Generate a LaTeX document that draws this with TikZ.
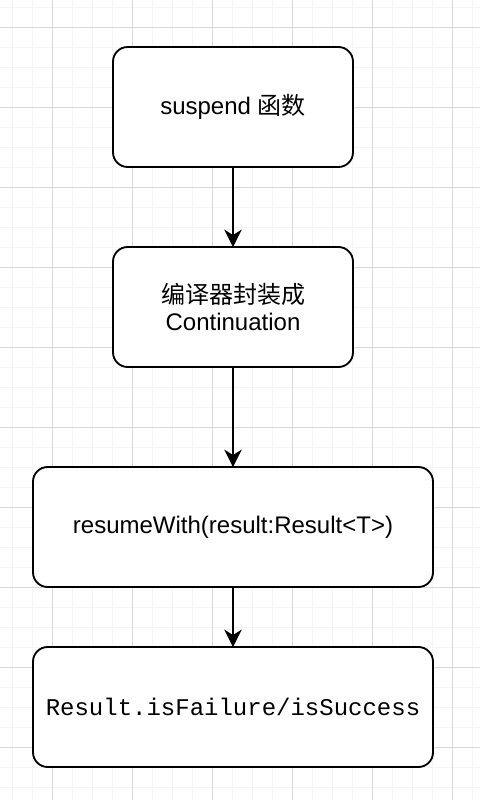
\documentclass[tikz,border=0pt]{standalone}
\usepackage{fontspec}
\setmainfont{Liberation Sans}
\setmonofont{Liberation Mono}
\newfontfamily\cjk{Noto Sans CJK SC}
\usetikzlibrary{arrows.meta, positioning}
\pgfdeclarelayer{bg}
\pgfsetlayers{bg,main}
\tikzset{
	gridminor/.style = {draw = black!4, line width = 0.75pt},
	gridmajor/.style = {draw = black!15, line width = 0.75pt},
	stage/.style = {rectangle, rounded corners = 11pt, draw = black, fill = white, line width = 1.4pt, minimum width = 180pt, minimum height = 90pt, text centered, align = center, inner sep = 0pt, outer sep = 0pt, font = \fontsize{18}{20}\selectfont},
	widestage/.style = {stage, minimum width = 300pt},
	arrow/.style = {-{Stealth[length = 13pt, width = 13pt, inset = 4pt]}, draw = black, line width = 1.4pt}
}

\begin{document}
\begin{tikzpicture}[x = 0.75pt, y = -0.75pt]
	\useasboundingbox (0,0) rectangle (480,800);

	%% grid paper
	\begin{pgfonlayer}{bg}
		\fill [white] (0,0) rectangle (480,800);
		\foreach \gx in {12,32,...,472} \draw [gridminor] (\gx,0) -- (\gx,800);
		\foreach \gy in {7,27,...,787} \draw [gridminor] (0,\gy) -- (480,\gy);
		\foreach \gx in {52,132,...,452} \draw [gridmajor] (\gx,0) -- (\gx,800);
		\foreach \gy in {27,107,...,747} \draw [gridmajor] (0,\gy) -- (480,\gy);
	\end{pgfonlayer}

	% stage nodes
	\node (suspend) [stage] at (233,107) {suspend {\cjk 函数}};
	\node (wrap) [stage, below = 60pt of suspend] {{\cjk 编译器封装成}\\Continuation};
	\node (resume) [widestage, below = 75pt of wrap] {resumeWith(result:Result<T>)};
	\node (check) [widestage, below = 45pt of resume, font = \ttfamily\fontsize{18}{20}\selectfont] {Result.isFailure/isSuccess};

	%%% arrows %%%
	\draw [arrow] (suspend) -- (wrap);
	\draw [arrow] (wrap) -- (resume);
	\draw [arrow] (resume) -- (check);
\end{tikzpicture}
\end{document}
